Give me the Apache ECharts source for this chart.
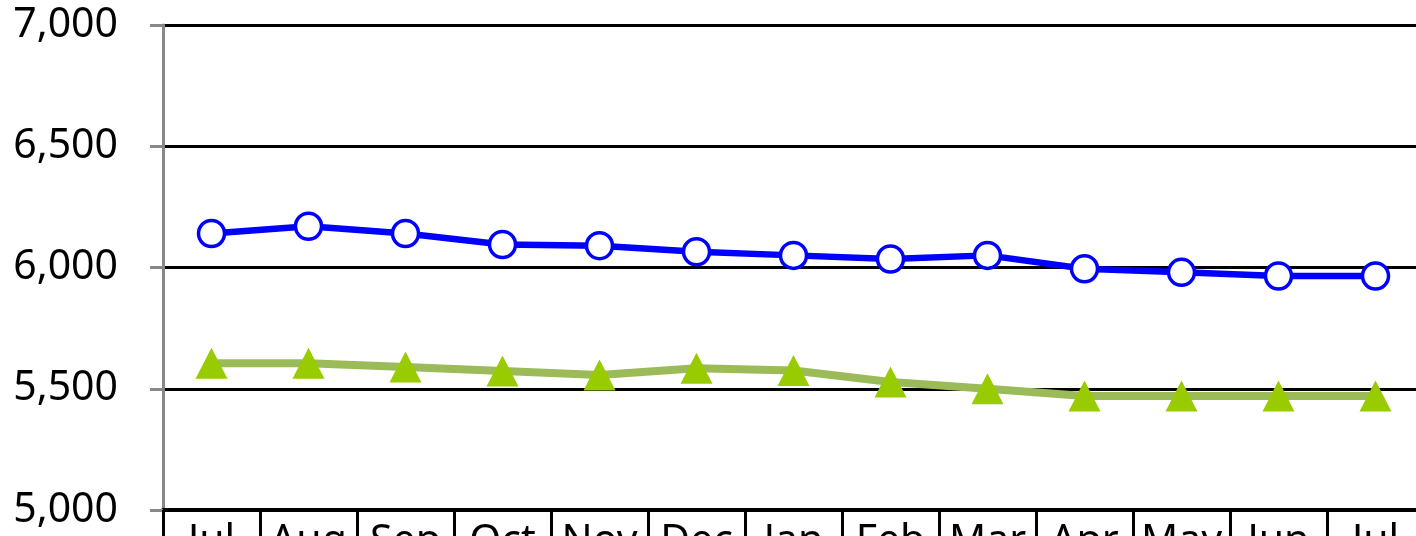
<!DOCTYPE html>
<html>
<head>
<meta charset="utf-8">
<script src="https://cdn.jsdelivr.net/npm/echarts@6/dist/echarts.min.js"></script>
<style>
html,body{margin:0;padding:0;background:#fff;}
#c{width:1416px;height:536px;}
</style>
</head>
<body>
<div id="c"></div>
<script>
var categories = ['Jul','Aug','Sep','Oct','Nov','Dec','Jan','Feb','Mar','Apr','May','Jun','Jul'];
var blueSeries = [6140, 6170, 6140, 6095, 6090, 6065, 6050, 6035, 6050, 5995, 5980, 5965, 5965];
var greenSeries = [5605, 5605, 5590, 5573, 5557, 5585, 5575, 5528, 5500, 5470, 5470, 5470, 5470];
var yTicks = {min: 5000, max: 7000, interval: 500};

var chart = echarts.init(document.getElementById('c'));
chart.setOption({
  animation: false,
  backgroundColor: '#fff',
  grid: {left: 163, top: 25, right: -8, bottom: 26, outerBoundsMode: 'none', containLabel: false},
  xAxis: {
    type: 'category',
    data: categories,
    boundaryGap: true,
    axisLine: {lineStyle: {color: '#000', width: 4}},
    axisTick: {show: true, length: 30, lineStyle: {color: '#000', width: 3}},
    axisLabel: {fontFamily: 'Noto Sans', fontSize: 41, color: '#000', margin: 12, interval: 0}
  },
  yAxis: {
    type: 'value',
    min: yTicks.min, max: yTicks.max, interval: yTicks.interval,
    axisLine: {show: true, lineStyle: {color: '#888', width: 3}},
    axisTick: {show: true, length: 13, lineStyle: {color: '#888', width: 3}},
    splitLine: {show: true, lineStyle: {color: '#000', width: 3}},
    axisLabel: {fontFamily: 'Noto Sans', fontSize: 41, color: '#000', margin: 45,
      formatter: function (v) { return v.toLocaleString('en-US'); }}
  },
  series: [
    {
      type: 'line',
      data: greenSeries,
      symbol: 'triangle',
      symbolSize: [32, 31],
      lineStyle: {color: '#9BBB59', width: 8},
      itemStyle: {color: '#99CC00'},
      z: 3
    },
    {
      type: 'line',
      data: blueSeries,
      symbol: 'circle',
      symbolSize: 26,
      lineStyle: {color: '#0000FF', width: 6.5},
      itemStyle: {color: '#fff', borderColor: '#0000FF', borderWidth: 3.5},
      z: 4
    }
  ]
});
</script>
</body>
</html>
